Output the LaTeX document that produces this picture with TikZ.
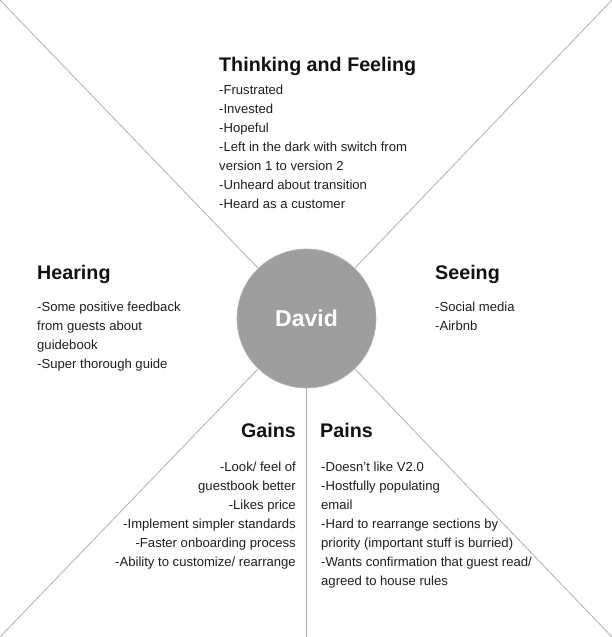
\documentclass[tikz,border=0pt]{standalone}
\usepackage{fontspec}
\setmainfont{Liberation Sans}
\definecolor{linegray}{HTML}{B0B0B0}
\definecolor{circfill}{HTML}{9E9E9E}
\definecolor{circedge}{HTML}{B4B4B4}
\definecolor{headcol}{HTML}{111111}
\definecolor{bodycol}{HTML}{1E1E1E}
\begin{document}
\begin{tikzpicture}[x=1pt,y=-1pt,
  rule/.style={draw=linegray, line width=0.8pt},
  heading/.style={inner sep=0pt, font=\fontsize{19.7}{24}\selectfont\bfseries, text=headcol},
  body/.style={inner sep=0pt, font=\fontsize{13.1}{19}\selectfont, text=bodycol}]
\useasboundingbox (0,0) rectangle (612,637);
\coordinate (c) at (306.5,318.5);
\coordinate (tl) at (0,0);
\coordinate (tr) at (612,0);
\coordinate (bl) at (0,637);
\coordinate (br) at (612,637);
\coordinate (bm) at (306,637);
\node[circle, fill=circfill, draw=circedge, line width=0.6pt, minimum size=139pt, inner sep=0pt,
      text=white, font=\fontsize{23}{28}\selectfont\bfseries] (david) at (c) {David};
\draw[rule] (tl) -- (david);
\draw[rule] (tr) -- (david);
\draw[rule] (bl) -- (david);
\draw[rule] (br) -- (david);
\draw[rule] (david.south -| bm) -- (bm);

% Thinking and Feeling
\node[heading, anchor=base west] (tfh) at (219,71) {Thinking and Feeling};
\foreach \t [count=\i] in {-Frustrated,-Invested,-Hopeful,-Left in the dark with switch from,version 1 to version 2,-Unheard about transition,-Heard as a customer}
  \node[body, anchor=base west] (tf\i) at (219,{94+19*(\i-1)}) {\t};

% Hearing
\node[heading, anchor=base west] (hh) at (37,279) {Hearing};
\foreach \t [count=\i] in {-Some positive feedback,from guests about,guidebook,-Super thorough guide}
  \node[body, anchor=base west] (h\i) at (37,{311.5+19*(\i-1)}) {\t};

% Seeing
\node[heading, anchor=base west] (sh) at (435,279) {Seeing};
\foreach \t [count=\i] in {-Social media,-Airbnb}
  \node[body, anchor=base west] (s\i) at (435,{311.5+19*(\i-1)}) {\t};

% Gains
\node[heading, anchor=base east] (gh) at (296,437) {Gains};
\foreach \t [count=\i] in {-Look/ feel of,guestbook better,-Likes price,-Implement simpler standards,-Faster onboarding process,-Ability to customize/ rearrange}
  \node[body, anchor=base east] (g\i) at (296,{471+19*(\i-1)}) {\t};

% Pains
\node[heading, anchor=base west] (ph) at (320,437) {Pains};
\foreach \t [count=\i] in {-Doesn’t like V2.0,-Hostfully populating,email,-Hard to rearrange sections by,priority (important stuff is burried),-Wants confirmation that guest read/,agreed to house rules}
  \node[body, anchor=base west] (p\i) at (321,{471+19*(\i-1)}) {\t};
\end{tikzpicture}
\end{document}
